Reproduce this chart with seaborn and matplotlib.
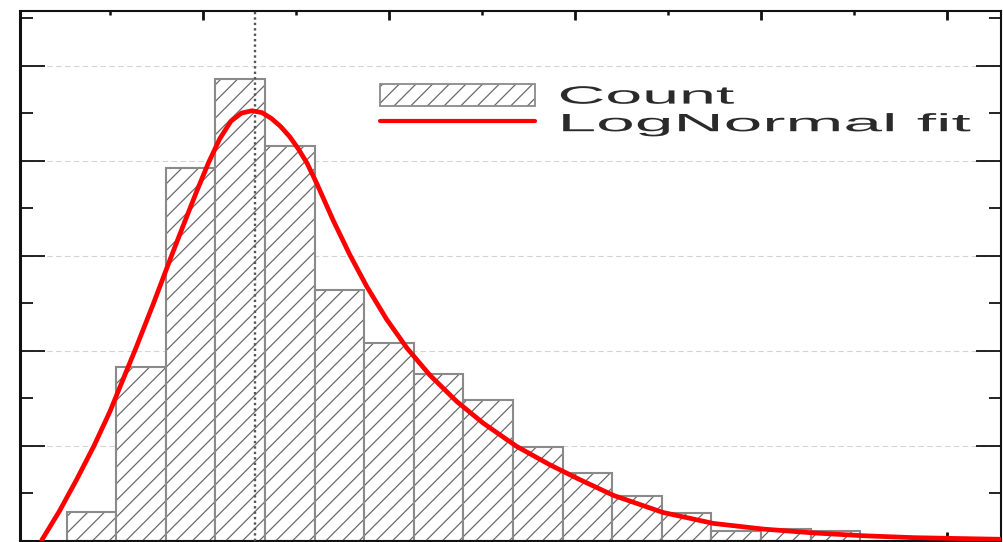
import numpy as np
import pandas as pd
import seaborn as sns
import matplotlib
matplotlib.use("Agg")
import matplotlib.pyplot as plt
from matplotlib.patches import Patch
from matplotlib.lines import Line2D
from matplotlib.patheffects import AbstractPathEffect
from matplotlib.transforms import Affine2D
from matplotlib.ticker import MultipleLocator
from matplotlib.colors import to_rgba

# ---------------- data ----------------
bin_edges = [8, 16, 24, 32, 40, 48, 56, 64, 72, 80, 88, 96, 104, 112, 120, 128, 136]
counts = [6.1, 36.5, 78.4, 97.2, 83.1, 52.7, 41.6, 35.1, 29.6, 19.6, 14.2, 9.4, 5.7, 1.9, 2.4, 2.0]

fit_x = [4.0, 6.8, 9.6, 12.4, 15.0, 17.5, 19.2, 22.0, 24.9, 26.8, 29.0, 30.9, 32.7,
         34.5, 36.2, 37.9, 39.5, 41.0, 42.5, 44.0, 45.4, 46.8, 48.3, 51.0, 53.7,
         56.4, 59.6, 62.9, 66.6, 70.9, 75.2, 80.6, 86.0, 90.8, 96.2, 104.2, 112.3,
         120.4, 128.4, 136.5, 144.6, 152.6, 159.0]
fit_y = [0.1, 6.1, 12.8, 19.9, 27.2, 35.2, 40.6, 49.9, 59.9, 66.3, 73.6, 79.6, 84.6,
         88.3, 90.0, 90.5, 90.1, 88.9, 87.2, 85.0, 82.4, 79.4, 75.3, 67.4, 60.1,
         53.5, 46.6, 40.5, 34.8, 29.3, 24.7, 19.8, 15.9, 12.8, 9.5, 5.9, 3.6,
         2.4, 1.6, 1.0, 0.6, 0.4, 0.25]

peak_x = 38.4
legend_labels = ["Count", "LogNormal fit"]


class HStretch(AbstractPathEffect):
    """Draw text glyphs stretched horizontally about their origin."""
    def __init__(self, sx):
        super().__init__()
        self.sx = sx

    def draw_path(self, renderer, gc, tpath, affine, rgbFace=None):
        renderer.draw_path(gc, tpath, Affine2D().scale(self.sx, 1.0) + affine, rgbFace)


sns.set_style("white")
plt.rcParams["font.family"] = ["Liberation Sans", "DejaVu Sans"]
plt.rcParams["hatch.linewidth"] = 0.9

W, H = 1004, 542
fig = plt.figure(figsize=(W / 100, H / 100), dpi=100)
ax = fig.add_axes([20 / W, 1.5 / H, 981 / W, 529.5 / H])

edge_col = "#8a8a8a"
hatch_col = "#6a6a6a"
centers = [(a + b) / 2 for a, b in zip(bin_edges[:-1], bin_edges[1:])]
df = pd.DataFrame({"value": centers, "count": counts})
sns.histplot(data=df, x="value", weights="count", bins=bin_edges, ax=ax,
             stat="count", element="bars", fill=True, facecolor="white",
             edgecolor=edge_col, linewidth=1.5, alpha=1, hatch="//", zorder=2)
for p in ax.patches:
    p.set_facecolor("white")
    p.set_edgecolor(edge_col)
    p.set_hatch("//")
    p.set_linewidth(1.5)
    p._hatch_color = to_rgba(hatch_col)

ax.axvline(peak_x, color="#555555", lw=1.7, ls=(0, (1, 1.3)), zorder=3)
sns.lineplot(x=fit_x, y=fit_y, ax=ax, color="red", lw=3.4, estimator=None, zorder=4)

ax.set_xlim(0.48, 158.7)
ax.set_ylim(0, 111.5)
ax.set_xlabel("")
ax.set_ylabel("")

ax.xaxis.set_major_locator(MultipleLocator(30))
ax.xaxis.set_minor_locator(MultipleLocator(15))
ax.yaxis.set_major_locator(MultipleLocator(20))
ax.yaxis.set_minor_locator(MultipleLocator(10))

ax.set_axisbelow(True)
ax.yaxis.grid(True, which="major", color="#d4d4d4", lw=0.8, ls=(0, (5, 3)))
ax.xaxis.grid(False)

tc = "#111111"
ax.tick_params(axis="x", which="major", direction="in", length=6.5, width=2.0,
               top=True, bottom=True, labelbottom=False, labeltop=False, color=tc)
ax.tick_params(axis="x", which="minor", direction="in", length=3.0, width=1.8,
               top=True, bottom=True, color=tc)
ax.tick_params(axis="y", which="major", direction="in", length=18, width=1.3,
               left=True, right=True, labelleft=False, labelright=False, color=tc)
ax.tick_params(axis="y", which="minor", direction="in", length=9, width=1.3,
               left=True, right=True, color=tc)

for name, s in ax.spines.items():
    s.set_visible(True)
    s.set_color(tc)
    s.set_linewidth(2.2 if name == "left" else 1.5)

count_handle = Patch(facecolor="white", edgecolor=edge_col, hatch="//", linewidth=1.3,
                     label=legend_labels[0])
count_handle._hatch_color = to_rgba(hatch_col)
handles = [count_handle, Line2D([], [], color="red", lw=3.0, label=legend_labels[1])]
leg = ax.legend(handles=handles, loc="upper left",
                bbox_to_anchor=(380 / W, 1 - 84 / H), bbox_transform=fig.transFigure,
                frameon=False, fontsize=18, handlelength=6.2, handleheight=0.98,
                handletextpad=0.9, labelspacing=0.12, borderpad=0, borderaxespad=0)
for t, sx in zip(leg.get_texts(), [2.65, 2.78]):
    t.set_color("#2a2a2a")
    t.set_path_effects([HStretch(sx)])
for h in leg.legend_handles:
    if isinstance(h, Patch):
        h._hatch_color = to_rgba(hatch_col)

fig.savefig("out.png", dpi=100)
